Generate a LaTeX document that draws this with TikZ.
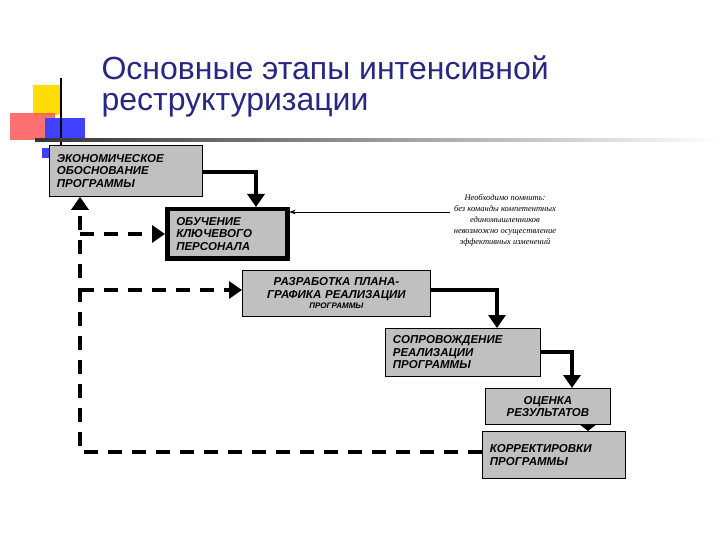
\documentclass[tikz,border=0pt]{standalone}
\usepackage{fontspec}
\setmainfont{Liberation Sans}
\newfontfamily\notefont{Liberation Serif}
\usetikzlibrary{positioning,arrows.meta,shapes.geometric}
\definecolor{titleblue}{RGB}{40,40,130}
\definecolor{boxgray}{RGB}{192,192,192}

\begin{document}
\begin{tikzpicture}[x=1pt,y=-1pt,
	stage/.style={draw,fill=boxgray,line width=0.8pt,inner ysep=3pt,inner xsep=7pt,align=left,
		font=\bfseries\itshape\fontsize{11.5}{12.5}\selectfont,anchor=north west},
	flow/.style={line width=4.5pt,-{Triangle[length=13pt,width=17pt]}},
	back/.style={line width=4pt,dash pattern=on 14pt off 10pt,-{Triangle[length=13pt,width=17pt]}}]
	\useasboundingbox (0,0) rectangle (720,540);
	% decoration
	\fill[yellow!80!orange] (33,85) rectangle (62,115);
	\fill[red!70,opacity=0.8] (10,113) rectangle (55,140);
	\fill[blue!75] (45,118) rectangle (85,140);
	\draw[line width=1.5pt] (61,78) -- (61,145);
	\shade[left color=black!80,right color=white] (35,139) rectangle (720,142);
	\fill[blue!75] (42,148) rectangle (50,158);
	% title
	\node[anchor=west,text=titleblue,font=\fontsize{32}{36}\selectfont] (title1) at (98,68) {Основные этапы интенсивной};
	\node[anchor=west,text=titleblue,font=\fontsize{32}{36}\selectfont] (title2) at (98,105) {реструктуризации};
	% stages
	\node[stage,minimum width=153pt,minimum height=51pt,text width=138pt] (econ) at (49,145)
		{ЭКОНОМИЧЕСКОЕ\\ОБОСНОВАНИЕ\\ПРОГРАММЫ};
	\node[stage,line width=4.5pt,minimum width=120pt,minimum height=49pt,text width=102pt] (train) at (165,207)
		{ОБУЧЕНИЕ\\КЛЮЧЕВОГО\\ПЕРСОНАЛА};
	\node[stage,align=center,minimum width=188pt,minimum height=46pt,text width=172pt] (plan) at (242,270)
		{РАЗРАБОТКА ПЛАНА-\\ГРАФИКА РЕАЛИЗАЦИИ\\[-2pt]{\fontsize{8}{8.5}\selectfont ПРОГРАММЫ}};
	\node[stage,minimum width=155pt,minimum height=48pt,text width=140pt] (support) at (385,328)
		{СОПРОВОЖДЕНИЕ\\РЕАЛИЗАЦИИ\\ПРОГРАММЫ};
	\node[stage,align=center,minimum width=125pt,minimum height=36pt,text width=110pt] (eval) at (485,388)
		{ОЦЕНКА\\РЕЗУЛЬТАТОВ};
	\node[stage,minimum width=143pt,minimum height=47pt,text width=128pt] (correct) at (482,431)
		{КОРРЕКТИРОВКИ\\ПРОГРАММЫ};
	\node[align=center,font=\notefont\itshape\fontsize{8.5}{11}\selectfont] (note) at (505,220)
		{Необходимо помнить:\\без команды компетентных\\единомышленников\\невозможно осуществление\\эффективных изменений};
	% connectors
	\draw[-{Stealth[length=6pt]},thin] (note.west |- 0,212) -- (train.east |- 0,212);
	\draw[flow] (econ.east |- 0,172) -| (train.north -| 256,0);
	\draw[flow] (plan.east |- 0,290) -| (support.north -| 497,0);
	\draw[flow] (support.east |- 0,352) -| (eval.north -| 572,0);
	\draw[line width=4.5pt,-{Triangle[length=6pt,width=15pt]}] (eval.south -| 588,0) -- (correct.north -| 588,0);
	\coordinate (corner) at (80,452);
	\draw[back] (correct.west |- corner) -- (corner) -- (econ.south -| corner);
	\draw[back] (80,234) -- (train.west |- 0,234);
	\draw[back] (80,290) -- (plan.west |- 0,290);
\end{tikzpicture}
\end{document}
